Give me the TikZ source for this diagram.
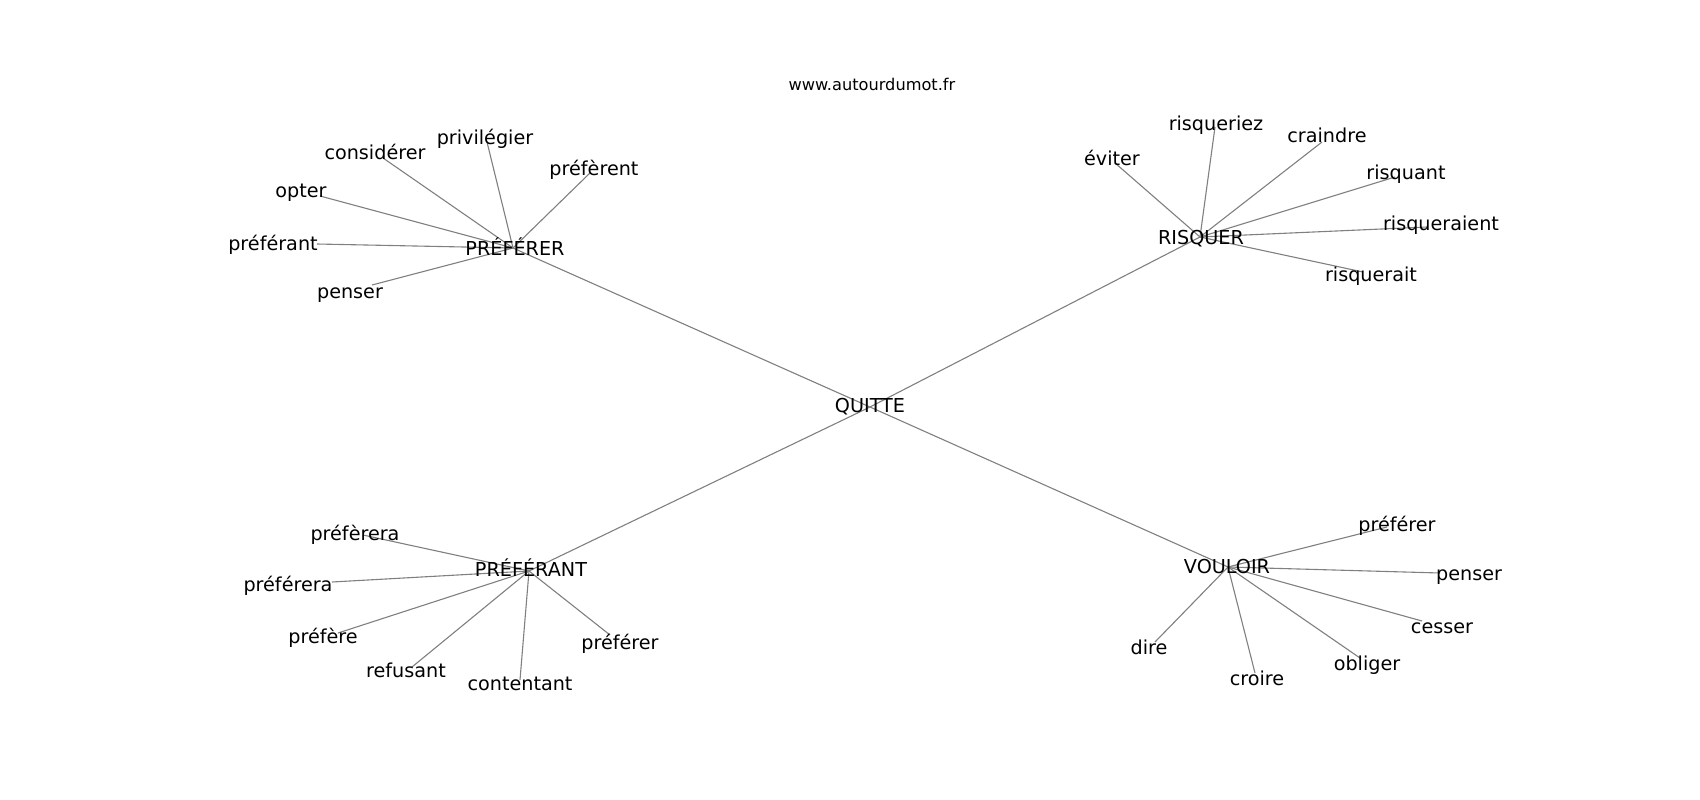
\documentclass[tikz,border=0pt]{standalone}
\usepackage{fontspec}
\setmainfont{DejaVu Sans}
\begin{document}
\begin{tikzpicture}[x=1pt,y=-1pt,
  word/.style={inner sep=0pt,anchor=center,yshift=-4pt,text height=0.73em,text depth=0pt,font=\fontsize{19.2}{23}\selectfont},
  hub/.style={word},
  titletext/.style={inner sep=0pt,anchor=center,yshift=-3.5pt,text height=0.73em,text depth=0pt,font=\fontsize{16.2}{19}\selectfont},
  edge/.style={draw=black!50,line width=1.1pt}]
\useasboundingbox[fill=white] (0,0) rectangle (1700,800);
% hub positions
\coordinate (cQ) at (870,407);
\coordinate (cA) at (513,248);
\coordinate (cB) at (1200,237);
\coordinate (cC) at (529,571);
\coordinate (cD) at (1228,567);
% leaf line ends
\coordinate (a1) at (383,158);
\coordinate (a2) at (487,142);
\coordinate (a3) at (590,173);
\coordinate (a4) at (320,196);
\coordinate (a5) at (317,244);
\coordinate (a6) at (372,285);
\coordinate (b1) at (1115,163);
\coordinate (b2) at (1215,127);
\coordinate (b3) at (1322,142);
\coordinate (b4) at (1395,177);
\coordinate (b5) at (1427,227);
\coordinate (b6) at (1363,272);
\coordinate (c1) at (363,535);
\coordinate (c2) at (332,582);
\coordinate (c3) at (338,633);
\coordinate (c4) at (412,667);
\coordinate (c5) at (520,680);
\coordinate (c6) at (610,635);
\coordinate (d1) at (1387,527);
\coordinate (d2) at (1440,573);
\coordinate (d3) at (1422,621);
\coordinate (d4) at (1360,658);
\coordinate (d5) at (1255,673);
\coordinate (d6) at (1155,642);
% edges
\foreach \h in {cA,cB,cC,cD} \draw[edge] (cQ) -- (\h);
\foreach \l in {a1,a2,a3,a4,a5,a6} \draw[edge] (cA) -- (\l);
\foreach \l in {b1,b2,b3,b4,b5,b6} \draw[edge] (cB) -- (\l);
\foreach \l in {c1,c2,c3,c4,c5,c6} \draw[edge] (cC) -- (\l);
\foreach \l in {d1,d2,d3,d4,d5,d6} \draw[edge] (cD) -- (\l);
% texts
\node[titletext] (title) at (872,83) {www.autourdumot.fr};
\node[hub] (Q) at (870,405) {QUITTE};
\node[hub] (A) at (515,248) {PRÉFÉRER};
\node[hub] (B) at (1201,237) {RISQUER};
\node[hub] (C) at (531,569) {PRÉFÉRANT};
\node[hub] (D) at (1227,566) {VOULOIR};
\node[word] (ta1) at (375,152) {considérer};
\node[word] (ta2) at (485,137) {privilégier};
\node[word] (ta3) at (594,168) {préfèrent};
\node[word] (ta4) at (301,190) {opter};
\node[word] (ta5) at (273,243) {préférant};
\node[word] (ta6) at (350,291) {penser};
\node[word] (tb1) at (1112,158) {éviter};
\node[word] (tb2) at (1216,123) {risqueriez};
\node[word] (tb3) at (1327,135) {craindre};
\node[word] (tb4) at (1406,172) {risquant};
\node[word] (tb5) at (1441,223) {risqueraient};
\node[word] (tb6) at (1371,274) {risquerait};
\node[word] (tc1) at (355,533) {préfèrera};
\node[word] (tc2) at (288,584) {préférera};
\node[word] (tc3) at (323,636) {préfère};
\node[word] (tc4) at (406,670) {refusant};
\node[word] (tc5) at (520,683) {contentant};
\node[word] (tc6) at (620,642) {préférer};
\node[word] (td1) at (1397,524) {préférer};
\node[word] (td2) at (1469,573) {penser};
\node[word] (td3) at (1442,626) {cesser};
\node[word] (td4) at (1367,663) {obliger};
\node[word] (td5) at (1257,678) {croire};
\node[word] (td6) at (1149,647) {dire};
\end{tikzpicture}
\end{document}
